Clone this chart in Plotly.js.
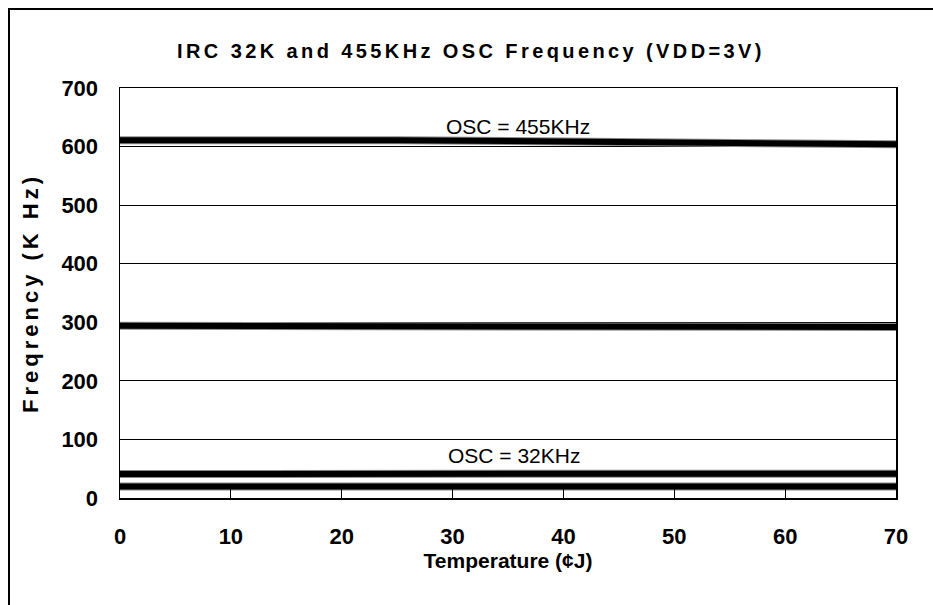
<!DOCTYPE html>
<html>
<head>
<meta charset="utf-8">
<script src="https://cdn.plot.ly/plotly-3.0.1.min.js"></script>
<style>
html,body{margin:0;padding:0;background:#fff;}
#chart{width:933px;height:605px;}
.gtitle{letter-spacing:3.4px;}
.ytitle{letter-spacing:4px;}
</style>
</head>
<body>
<div id="chart"></div>
<script>
// Data
const temperature = [0, 25, 50, 70];
const osc455 = [611, 611, 607, 604];
const mid300 = [294, 294, 293, 292];
const osc32Upper = [41, 41, 41, 41.5];
const osc32Lower = [19.5, 19.5, 19.5, 19.5];
const xTicks = [0, 10, 20, 30, 40, 50, 60, 70];
const yTicks = [0, 100, 200, 300, 400, 500, 600, 700];
const chartTitle = 'IRC 32K and 455KHz OSC Frequency (VDD=3V)';
const xTitle = 'Temperature (¢J)';
const yTitle = 'Freqrency (K Hz)';
const labels = [
  {x: 35.9, y: 634, text: 'OSC = 455KHz'},
  {x: 35.5, y: 72, text: 'OSC = 32KHz'}
];

const FONT = '"Liberation Sans", Arial, sans-serif';
const seriesList = [osc455, mid300, osc32Upper, osc32Lower];
const traces = [];
seriesList.forEach(s => {
  traces.push({x: temperature, y: s, mode: 'lines', line: {color: '#8a8a8a', width: 8}, hoverinfo: 'skip', showlegend: false});
  traces.push({x: temperature, y: s, mode: 'lines', line: {color: '#000', width: 6}, showlegend: false});
});

const layout = {
  width: 933, height: 605,
  margin: {l: 120, r: 37, t: 88, b: 107},
  paper_bgcolor: '#fff', plot_bgcolor: '#fff',
  showlegend: false,
  font: {family: FONT, color: '#000'},
  title: {
    text: chartTitle,
    font: {family: FONT, size: 20, color: '#000', weight: 'bold'},
    xref: 'container', x: 471/933, xanchor: 'center',
    yref: 'container', y: 1 - 51/605, yanchor: 'middle'
  },
  xaxis: {
    range: [0, 70], tickvals: xTicks, ticktext: xTicks.map(String),
    showgrid: false, zeroline: false,
    showline: true, linecolor: '#000', linewidth: 1.5, mirror: true,
    ticks: 'inside', ticklen: 9, tickcolor: '#000', tickwidth: 1,
    ticklabelstandoff: 18,
    tickfont: {family: FONT, size: 22, color: '#000', weight: 'bold'},
    title: {text: xTitle, standoff: 0, font: {family: FONT, size: 21, color: '#000', weight: 'bold'}}
  },
  yaxis: {
    range: [0, 700], tickvals: yTicks, ticktext: yTicks.map(String),
    showgrid: true, gridcolor: '#000', gridwidth: 1, zeroline: false,
    showline: true, linecolor: '#000', linewidth: 1.5, mirror: true,
    ticks: '', ticklabelstandoff: 16,
    tickfont: {family: FONT, size: 22, color: '#000', weight: 'bold'},
    title: {text: yTitle + '\u00a0\u00a0\u00a0', standoff: 16, font: {family: FONT, size: 22, color: '#000', weight: 'bold'}}
  },
  annotations: labels.map(a => ({
    x: a.x, y: a.y, xref: 'x', yref: 'y', text: a.text, showarrow: false,
    font: {family: FONT, size: 21, color: '#000'}, xanchor: 'center', yanchor: 'middle'
  })),
  shapes: [{
    type: 'rect', xref: 'paper', yref: 'paper',
    x0: (9 - 120) / 776, x1: (945 - 120) / 776,
    y0: (498 - 620) / 410, y1: (498 - 9) / 410,
    line: {color: '#000', width: 2}, fillcolor: 'rgba(0,0,0,0)', layer: 'below'
  }]
};

Plotly.newPlot('chart', traces, layout, {staticPlot: true, displayModeBar: false});
</script>
</body>
</html>
